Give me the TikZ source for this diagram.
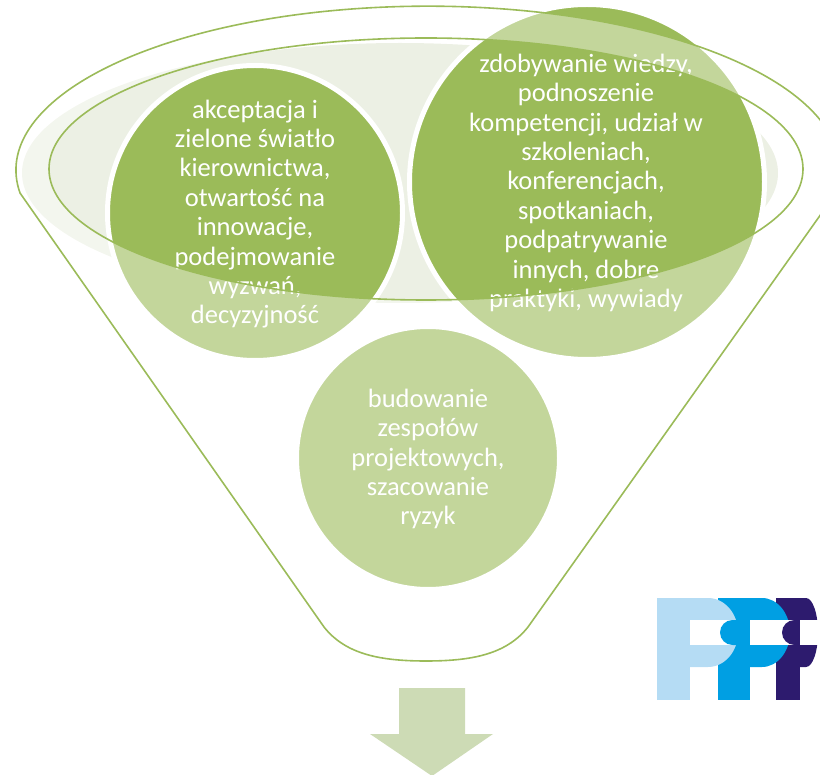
\documentclass[tikz,border=0pt]{standalone}
\usepackage{fontspec}
\setmainfont{Carlito}
\definecolor{fgreen}{HTML}{9BBB59}
\definecolor{shadowgray}{HTML}{ECF0E4}
\definecolor{arrowgreen}{HTML}{CDDBB5}
\definecolor{ppfa}{HTML}{B5DCF4}
\definecolor{ppfb}{HTML}{009FE3}
\definecolor{ppfc}{HTML}{2D1B6E}
\begin{document}
\begin{tikzpicture}[x=1pt,y=-1pt,
  bubble/.style={circle, fill=fgreen, draw=white, line width=5pt, inner sep=0pt},
  bubbletext/.style={text=white, align=center, font=\fontsize{26.5}{29.4}\selectfont, inner sep=0pt, anchor=north},
  funnelline/.style={draw=fgreen, line width=1.6pt},
  overlay/.style={fill=white, fill opacity=0.4, even odd rule},
]
\useasboundingbox (0,0) rectangle (820,775);
\begin{scope}
\clip (0,0) rectangle (820,775);
% shadow ellipse
\fill[shadowgray] (400,173) ellipse [x radius=378, y radius=130];
% circles
\node[bubble, minimum size=295pt] (c1) at (255,213) {};
\node[bubble, minimum size=355pt] (c2) at (587,182) {};
\node[bubble, minimum size=263pt] (c3) at (428,458) {};
% texts
\node[bubbletext] (t1) at (255,97.4) {\strut akceptacja i\\zielone światło\\kierownictwa,\\otwartość na\\innowacje,\\podejmowanie\\wyzwań,\\decyzyjność};
\node[bubbletext] (t2) at (586,51.6) {\strut zdobywanie wiedzy,\\podnoszenie\\kompetencji, udział w\\szkoleniach,\\konferencjach,\\spotkaniach,\\podpatrywanie\\innych, dobre\\praktyki, wywiady};
\node[bubbletext] (t3) at (428,386.6) {\strut budowanie\\zespołów\\projektowych,\\szacowanie\\ryzyk};
% funnel translucent body (outline minus inner ellipse)
\path[overlay] (20,193) arc[start angle=172, end angle=368, x radius=412, y radius=164]
  -- (528,627) .. controls (506,655) and (470,661) .. (426,661)
  .. controls (382,661) and (346,655) .. (324,627) -- cycle
  (426,169) ellipse [x radius=377, y radius=131];
% funnel outlines
\draw[funnelline] (20,193) arc[start angle=172, end angle=368, x radius=412, y radius=164]
  -- (528,627) .. controls (506,655) and (470,661) .. (426,661)
  .. controls (382,661) and (346,655) .. (324,627) -- cycle;
\draw[funnelline] (426,169) ellipse [x radius=377, y radius=131];
% down arrow
\fill[arrowgreen] (399,688) -- (465,688) -- (465,734) -- (493,734) -- (432,776) -- (370,734) -- (399,734) -- cycle;
% logo
\fill[ppfb] (718,598) rectangle (750,700);
\fill[ppfc] (776,598) rectangle (800,700);
\fill[ppfa] (657,598) rectangle (690,700);
\fill[ppfa] (690,598) -- (708,598) arc[start angle=-90, end angle=90, x radius=30, y radius=34.5] -- (690,667) -- cycle;
\fill[white] (690,620) rectangle (733,645);
\fill[ppfb] (745,620) -- (732.5,620) arc[start angle=-90, end angle=-270, radius=12.5] -- (745,645) -- cycle;
\fill[ppfb] (750,598) -- (762,598) arc[start angle=-90, end angle=90, x radius=28, y radius=34.5] -- (750,667) -- cycle;
\fill[white] (750,620) rectangle (795,645);
\fill[ppfc] (800,620) -- (794.5,620) arc[start angle=-90, end angle=-270, radius=12.5] -- (800,645) -- cycle;
\fill[ppfc] (800,598) -- (806,598) arc[start angle=-90, end angle=90, x radius=12, y radius=34.5] -- (800,667) -- cycle;
\fill[white] (800,620) rectangle (820,645);
\end{scope}
\end{tikzpicture}
\end{document}
